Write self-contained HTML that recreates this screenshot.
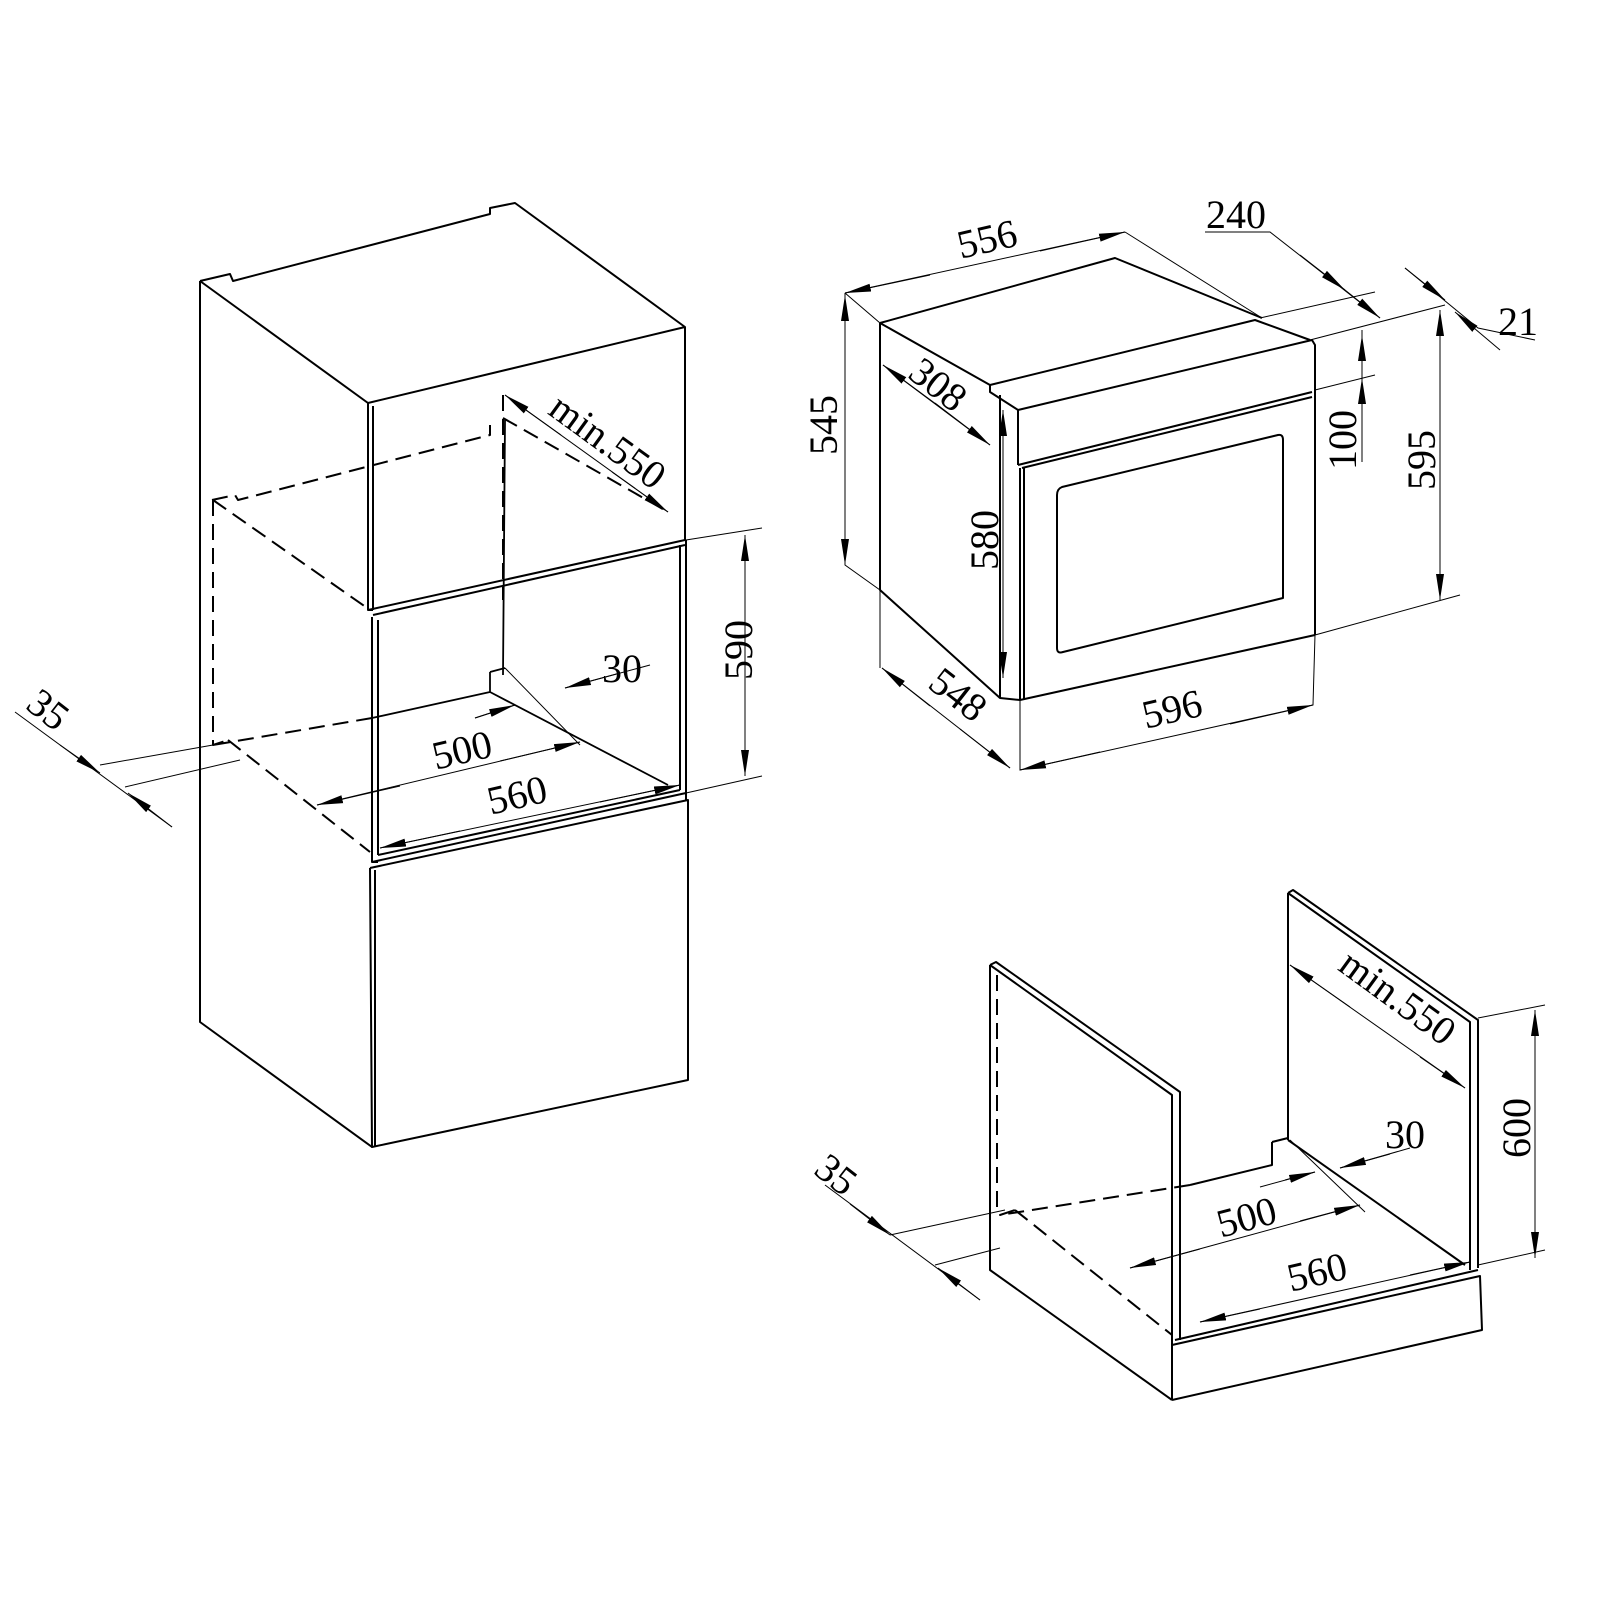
<!DOCTYPE html>
<html><head><meta charset="utf-8"><style>html,body{margin:0;padding:0;background:#fff}svg{display:block}</style></head>
<body>
<svg width="1600" height="1600" viewBox="0 0 1600 1600" xmlns="http://www.w3.org/2000/svg">
<defs>
<marker id="b" viewBox="0 0 26 10" refX="26" refY="5" markerWidth="26" markerHeight="10" markerUnits="userSpaceOnUse" orient="auto-start-reverse"><path d="M0,1 L26,5 L0,9 Z" fill="#000"/></marker>
</defs>
<g fill="none" stroke="#000" stroke-width="2" stroke-linejoin="round">
<path d="M200,281 L230,274 L233,281 L490,214 L490,208 L515,203 L685,327 L685,540"/>
<path d="M200,281 L368,403 L685,327"/>
<path d="M200,281 L200,1022 L372,1147"/>
<path d="M368,403 L368,610 L373,610 M373,406 L373,610 M368,610 L685,540 M373,615 L685,545"/>
<path d="M372,617 L372,862 L378,862 M378,620 L378,855 M372,862 L686,793 M378,855 L680,790 M680,545 L680,790 M686,540 L686,800"/>
<path d="M370,868 L688,800 L688,1080 L372,1147 L370,868 M375,870 L375,1147"/>
<path d="M505,420 L503,675 M490,672 L505,668 M490,672 L490,692 L668,785 M490,692 L372,718" stroke-width="1.8"/>
<path d="M212,500 L235,495 L238,500 L490,435 L490,425 M213,500 L213,745 L228,740 M213,500 L370,610 M503,418 L668,512 M503,395 L503,600 M372,718 L213,745 M228,740 L370,852" stroke-dasharray="16,8"/>
<path d="M880,323 L1115,258 L1262,318 M880,323 L990,385 M880,323 L880,590 L1000,698 L1020,700"/>
<path d="M990,385 L1255,320 L1310,340 M990,385 L990,392 L1018,410"/>
<path d="M1018,410 L1312,340 L1315,345 L1315,635 M1018,410 L1018,465 M1018,465 L1312,392 M1022,468 L1312,397"/>
<path d="M1000,395 L1000,698 M1020,468 L1020,700 L1315,635 M1024,468 L1024,700"/>
<path d="M1062,487 L1278,435 Q1283,434 1283,440 L1283,598 L1063,652 Q1057,654 1057,648 L1057,495 Q1057,489 1062,487 Z"/>
<path d="M990,965 L996,962 L1180,1092 L1180,1340 M990,965 L1172,1095 L1172,1400 M990,965 L990,1270 L1172,1400"/>
<path d="M1288,893 L1293,890 L1478,1020 L1478,1268 M1288,893 L1470,1022 L1470,1270 M1288,893 L1288,1140"/>
<path d="M1272,1142 L1288,1138 M1272,1142 L1272,1165 L1190,1185 M1288,1140 L1465,1265"/>
<path d="M997,975 L997,1215 M1190,1185 L1000,1215 L1015,1210 M1015,1210 L1172,1335" stroke-dasharray="16,8"/>
<path d="M1172,1345 L1480,1276 L1482,1330 L1172,1400 M1175,1340 L1478,1270"/>
</g>
<g fill="none" stroke="#000" stroke-width="1">
<path d="M686,540 L762,528 M686,793 L762,776 M745,535 L745,776"/>
<path d="M505,395 L668,512"/>
<path d="M650,665 L565,688 M475,718 L515,705 M505,668 L580,745"/>
<path d="M317,805 L580,742 M380,848 L680,785"/>
<path d="M100,765 L213,745 M125,787 L240,760 M15,712 L172,827"/>
<path d="M845,293 L1125,232 M1125,232 L1262,318 M880,323 L845,293 M845,293 L845,565 L880,590"/>
<path d="M883,365 L990,445 M1003,410 L1003,678 M880,590 L880,668 M882,668 L1010,768 M1020,700 L1020,770 L1313,705 L1315,635"/>
<path d="M1205,232 L1270,232 L1380,318 M1260,318 L1375,292 M1405,268 L1478,328 L1535,340 M1310,340 L1445,305 M1315,390 L1375,375 M1315,635 L1460,595"/>
<path d="M1362,330 L1362,462 M1440,310 L1440,600"/>
<path d="M1290,965 L1465,1088 M1478,1018 L1545,1005 M1478,1265 L1545,1250 M1535,1010 L1535,1258"/>
<path d="M1410,1148 L1340,1168 M1285,1180 L1315,1172 M1290,1140 L1365,1212"/>
<path d="M1130,1268 L1360,1205 M1200,1322 L1470,1262"/>
<path d="M890,1235 L1005,1210 M935,1265 L1000,1248 M825,1185 L980,1300"/>
</g>
<g stroke="#000" stroke-width="1" fill="none">
<line x1="745" y1="600" x2="745" y2="535" marker-end="url(#b)"/>
<line x1="745" y1="700" x2="745" y2="776" marker-end="url(#b)"/>
<line x1="561" y1="435" x2="505" y2="395" marker-end="url(#b)"/>
<line x1="612" y1="472" x2="668" y2="512" marker-end="url(#b)"/>
<line x1="620" y1="673" x2="565" y2="688" marker-end="url(#b)"/>
<line x1="475" y1="718" x2="515" y2="705" marker-end="url(#b)"/>
<line x1="400" y1="786" x2="317" y2="805" marker-end="url(#b)"/>
<line x1="500" y1="761" x2="580" y2="742" marker-end="url(#b)"/>
<line x1="460" y1="831" x2="380" y2="848" marker-end="url(#b)"/>
<line x1="600" y1="802" x2="680" y2="785" marker-end="url(#b)"/>
<line x1="60" y1="745" x2="100" y2="773" marker-end="url(#b)"/>
<line x1="172" y1="827" x2="128" y2="793" marker-end="url(#b)"/>
<line x1="930" y1="275" x2="845" y2="293" marker-end="url(#b)"/>
<line x1="1040" y1="251" x2="1125" y2="232" marker-end="url(#b)"/>
<line x1="845" y1="370" x2="845" y2="295" marker-end="url(#b)"/>
<line x1="845" y1="490" x2="845" y2="565" marker-end="url(#b)"/>
<line x1="940" y1="407" x2="883" y2="365" marker-end="url(#b)"/>
<line x1="935" y1="403" x2="990" y2="445" marker-end="url(#b)"/>
<line x1="1003" y1="480" x2="1003" y2="410" marker-end="url(#b)"/>
<line x1="1003" y1="600" x2="1003" y2="678" marker-end="url(#b)"/>
<line x1="930" y1="706" x2="882" y2="668" marker-end="url(#b)"/>
<line x1="960" y1="729" x2="1010" y2="768" marker-end="url(#b)"/>
<line x1="1100" y1="752" x2="1020" y2="770" marker-end="url(#b)"/>
<line x1="1230" y1="724" x2="1313" y2="705" marker-end="url(#b)"/>
<line x1="1300" y1="255" x2="1345" y2="290" marker-end="url(#b)"/>
<line x1="1340" y1="286" x2="1380" y2="318" marker-end="url(#b)"/>
<line x1="1405" y1="268" x2="1445" y2="300" marker-end="url(#b)"/>
<line x1="1500" y1="350" x2="1455" y2="312" marker-end="url(#b)"/>
<line x1="1362" y1="380" x2="1362" y2="335" marker-end="url(#b)"/>
<line x1="1362" y1="430" x2="1362" y2="378" marker-end="url(#b)"/>
<line x1="1440" y1="390" x2="1440" y2="310" marker-end="url(#b)"/>
<line x1="1440" y1="520" x2="1440" y2="600" marker-end="url(#b)"/>
<line x1="1350" y1="1007" x2="1290" y2="965" marker-end="url(#b)"/>
<line x1="1420" y1="1057" x2="1465" y2="1088" marker-end="url(#b)"/>
<line x1="1535" y1="1080" x2="1535" y2="1010" marker-end="url(#b)"/>
<line x1="1535" y1="1190" x2="1535" y2="1258" marker-end="url(#b)"/>
<line x1="1390" y1="1154" x2="1340" y2="1168" marker-end="url(#b)"/>
<line x1="1260" y1="1187" x2="1315" y2="1172" marker-end="url(#b)"/>
<line x1="1200" y1="1249" x2="1130" y2="1268" marker-end="url(#b)"/>
<line x1="1300" y1="1221" x2="1360" y2="1205" marker-end="url(#b)"/>
<line x1="1260" y1="1309" x2="1200" y2="1322" marker-end="url(#b)"/>
<line x1="1410" y1="1275" x2="1470" y2="1262" marker-end="url(#b)"/>
<line x1="850" y1="1204" x2="890" y2="1235" marker-end="url(#b)"/>
<line x1="980" y1="1300" x2="938" y2="1268" marker-end="url(#b)"/>
</g>
<g font-family="Liberation Serif, serif" font-size="40" fill="#000" text-anchor="middle">
<text transform="translate(600,452) rotate(36)">min.550</text>
<text x="622" y="682">30</text>
<text transform="translate(752,650) rotate(-90)">590</text>
<text transform="translate(465,763) rotate(-13)">500</text>
<text transform="translate(520,808) rotate(-13)">560</text>
<text transform="translate(40,720) rotate(38)">35</text>
<text transform="translate(990,252) rotate(-13)">556</text>
<text x="1236" y="228">240</text>
<text x="1518" y="335">21</text>
<text transform="translate(837,425) rotate(-90)">545</text>
<text transform="translate(930,395) rotate(38)">308</text>
<text transform="translate(998,540) rotate(-90)">580</text>
<text transform="translate(950,705) rotate(38)">548</text>
<text transform="translate(1175,722) rotate(-13)">596</text>
<text transform="translate(1356,440) rotate(-90)">100</text>
<text transform="translate(1435,460) rotate(-90)">595</text>
<text transform="translate(1390,1008) rotate(36)">min.550</text>
<text transform="translate(1530,1128) rotate(-90)">600</text>
<text x="1405" y="1148">30</text>
<text transform="translate(1250,1230) rotate(-15)">500</text>
<text transform="translate(1320,1285) rotate(-13)">560</text>
<text transform="translate(828,1185) rotate(38)">35</text>
</g>
</svg>
</body></html>
